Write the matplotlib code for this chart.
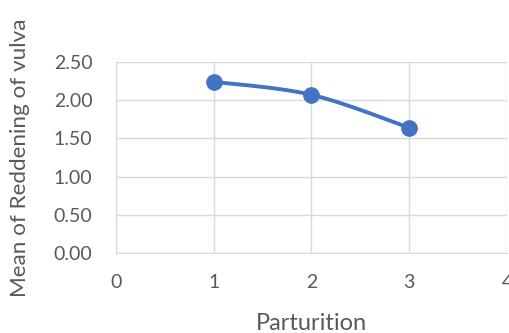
import matplotlib
matplotlib.use("Agg")
import matplotlib.pyplot as plt
import numpy as np

parturition = [1, 2, 3]
reddening = [2.24, 2.07, 1.64]
x_ticks = [0, 1, 2, 3, 4]
y_ticks = [0.0, 0.5, 1.0, 1.5, 2.0, 2.5]

plt.rcParams['font.family'] = ['Lato', 'DejaVu Sans']

# smooth line like Excel (Catmull-Rom through the points)
def smooth(xs, ys, n=30):
    px = [xs[0]] + list(xs) + [xs[-1]]
    py = [ys[0]] + list(ys) + [ys[-1]]
    ox, oy = [], []
    for i in range(1, len(px) - 2):
        t = np.linspace(0, 1, n)
        for p, out in ((px, ox), (py, oy)):
            p0, p1, p2, p3 = p[i - 1], p[i], p[i + 1], p[i + 2]
            out.extend(0.5 * (2 * p1 + (-p0 + p2) * t + (2 * p0 - 5 * p1 + 4 * p2 - p3) * t ** 2
                              + (-p0 + 3 * p1 - 3 * p2 + p3) * t ** 3))
    return ox, oy

fig = plt.figure(figsize=(5.1, 3.33), dpi=100)
ax = fig.add_axes([0.2275, 0.24, 0.7665, 0.574])

sx, sy = smooth(parturition, reddening)
ax.plot(sx, sy, color='#4472C4', lw=2.8, zorder=3, solid_capstyle='round')
ax.plot(parturition, reddening, 'o', color='#4472C4', ms=11, zorder=4)

ax.set_xlim(0, 4)
ax.set_ylim(0, 2.5)
ax.set_xticks(x_ticks)
ax.set_yticks(y_ticks)
ax.set_yticklabels(['%.2f' % v for v in y_ticks])
ax.grid(True, color='#D9D9D9', lw=1)
ax.set_axisbelow(True)
for s in ax.spines.values():
    s.set_visible(False)
ax.spines['left'].set_visible(True)
ax.spines['bottom'].set_visible(True)
ax.spines['left'].set_color('#D9D9D9')
ax.spines['bottom'].set_color('#D9D9D9')
ax.tick_params(length=0, labelsize=14, colors='#595959')
ax.tick_params(axis='y', pad=17)
ax.tick_params(axis='x', pad=15)

ax.set_xlabel('Parturition', fontsize=17, color='#595959', labelpad=16)
ax.set_ylabel('Mean of Reddening of vulva', fontsize=16.2, color='#595959', labelpad=17)

fig.savefig('out.png', dpi=100)
